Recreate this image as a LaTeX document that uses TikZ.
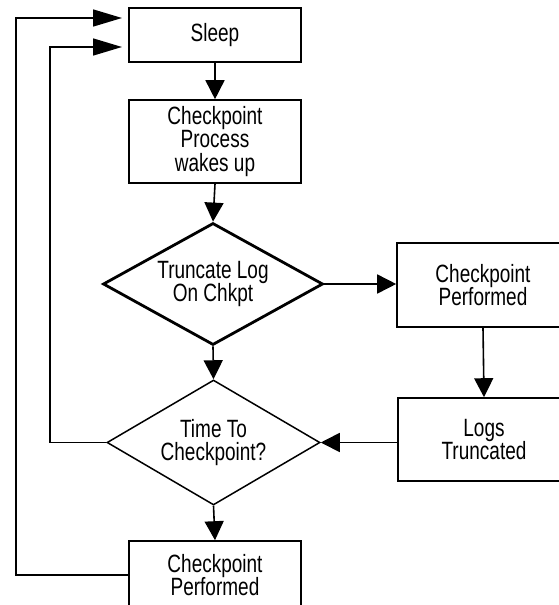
\documentclass[tikz,border=0pt]{standalone}
\usepackage{fontspec}
\setmainfont{Liberation Sans}[FakeStretch=0.76]
\usetikzlibrary{arrows.meta,shapes.geometric}
\begin{document}
\begin{tikzpicture}[x=1pt,y=-1pt,
  txt/.style={font=\fontsize{25}{23.5}\selectfont, align=center, inner sep=0pt},
  procbox/.style={txt, draw, line width=1.6pt, rectangle, minimum width=172pt},
  thickdia/.style={txt, draw, line width=2.8pt, diamond, aspect=1.8, minimum width=220pt, minimum height=122pt, line join=miter},
  thindia/.style={txt, draw, line width=1.5pt, diamond, aspect=1.7, minimum width=213pt, minimum height=125pt},
  conn/.style={line width=1.6pt, -{Triangle[length=19pt,width=19pt]}},
  loopconn/.style={line width=1.6pt, -{Triangle[length=29pt,width=17pt]}}]
\clip (0,0) rectangle (559,605);
\fill[white] (0,0) rectangle (559,605);
\node[procbox, minimum height=54pt] (sleep) at (215,35) {Sleep};
\node[procbox, minimum height=83pt] (wake) at (215,141.5) {Checkpoint\\Process\\wakes up};
\node[thickdia] (trunc) at (213,284) {Truncate Log\\On Chkpt};
\node[procbox, minimum height=84pt] (cp1) at (483,285) {Checkpoint\\Performed};
\node[procbox, minimum height=83pt] (logs) at (484,439.5) {Logs\\Truncated};
\node[thindia] (time) at (213.5,442.5) {Time To\\Checkpoint?};
\node[procbox, minimum height=68pt] (cp2) at (215,575) {Checkpoint\\Performed};
\coordinate (s1) at (122,18);
\coordinate (s2) at (122,47);
\coordinate (l1) at (16,0);
\coordinate (l2) at (50,0);
\draw[conn] (sleep.south) -- (wake.north);
\draw[conn] (wake.south) -- (trunc.north);
\draw[conn] (trunc.east) -- (trunc.east -| cp1.west);
\draw[conn] (cp1.south) -- (logs.north);
\draw[conn] (logs.west |- time.east) -- (time.east);
\draw[conn] (trunc.south) -- (time.north);
\draw[conn] (time.south) -- (cp2.north);
\draw[loopconn] (time.west) -| (l2 |- s2) -- (s2);
\draw[loopconn] (cp2.west) -| (l1 |- s1) -- (s1);
\end{tikzpicture}
\end{document}
